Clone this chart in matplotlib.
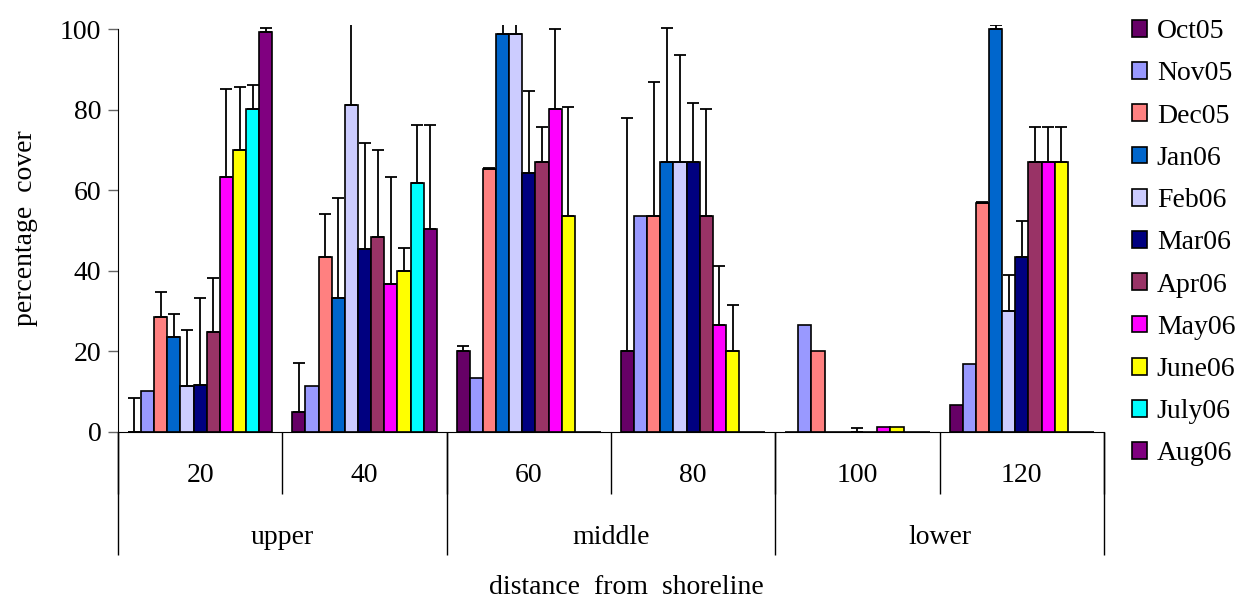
import matplotlib.pyplot as plt
import numpy as np

# данные: процент покрытия по месяцам и расстоянию от берега
distances = ['20', '40', '60', '80', '100', '120']
zones = ['upper', 'middle', 'lower']
months = ['Oct05', 'Nov05', 'Dec05', 'Jan06', 'Feb06', 'Mar06',
          'Apr06', 'May06', 'June06', 'July06', 'Aug06']
colors = ['#660066', '#9999FF', '#FF8080', '#0066CC', '#CCCCFF', '#000080',
          '#993366', '#FF00FF', '#FFFF00', '#00FFFF', '#800080']

oct05 = [0, 4.9, 20.1, 20.1, 0, 6.7]
nov05 = [10.2, 11.5, 13.3, 53.6, 26.5, 16.9]
dec05 = [28.5, 43.4, 65.2, 53.6, 20.0, 56.8]
jan06 = [23.5, 33.2, 98.8, 66.9, 0, 100]
feb06 = [11.5, 81.1, 98.8, 66.9, 0, 30.0]
mar06 = [11.7, 45.3, 64.3, 66.9, 0, 43.5]
apr06 = [24.9, 48.4, 66.9, 53.6, 0, 66.9]
may06 = [63.3, 36.7, 80.2, 26.6, 1.2, 66.9]
jun06 = [70.0, 40.0, 53.6, 20.1, 1.2, 66.9]
jul06 = [80.2, 61.7, 0, 0, 0, 0]
aug06 = [99.3, 50.4, 0, 0, 0, 0]

# верхние планки погрешностей
oct05_err = [8.5, 12.1, 1.2, 57.9, 0, 0]
nov05_err = [0, 0, 0, 0, 0, 0]
dec05_err = [6.2, 10.7, 0.4, 33.3, 0, 0.3]
jan06_err = [5.8, 24.8, 5, 33.3, 0, 1]
feb06_err = [13.9, 25, 5, 26.6, 0, 9]
mar06_err = [21.6, 26.5, 20.4, 14.7, 0.9, 8.9]
apr06_err = [13.4, 21.6, 8.9, 26.6, 0, 8.9]
may06_err = [21.7, 26.6, 19.8, 14.6, 0, 8.9]
jun06_err = [15.5, 5.7, 27, 11.5, 0, 8.9]
jul06_err = [5.8, 14.5, 0, 0, 0, 0]
aug06_err = [0.9, 25.8, 0, 0, 0, 0]

values = [oct05, nov05, dec05, jan06, feb06, mar06, apr06, may06, jun06, jul06, aug06]
errors = [oct05_err, nov05_err, dec05_err, jan06_err, feb06_err, mar06_err,
          apr06_err, may06_err, jun06_err, jul06_err, aug06_err]

plt.rcParams['font.family'] = ['Liberation Serif', 'DejaVu Serif']
plt.rcParams['font.size'] = 20

fig = plt.figure(figsize=(12.41, 6.01), dpi=100)
ax = fig.add_axes([0.0951, 0.2812, 0.7945, 0.6772])

n = len(months)
width = 1 / (n + 1.5)
base = np.arange(len(distances))
for j, (m, c) in enumerate(zip(months, colors)):
    x = base + 0.75 * width + width * (j + 0.5)
    y = np.array(values[j])
    e = np.array(errors[j])
    ax.bar(x, y, width=width, color=c, edgecolor='black', linewidth=1.2, label=m)
    mask = e > 0
    ax.errorbar(x[mask], y[mask], yerr=[np.zeros(mask.sum()), e[mask]],
                fmt='none', ecolor='black', elinewidth=1.3, capsize=4.5, capthick=1.3)

ax.set_xlim(0, len(distances))
ax.set_ylim(0, 101)
ax.set_yticks(range(0, 101, 20))
ax.set_xticks([])
ax.spines['top'].set_visible(False)
ax.spines['right'].set_visible(False)
ax.spines['left'].set_bounds(0, 100)
ax.tick_params(axis='y', length=7, width=1, color='#666666', pad=5)

# многоуровневая ось категорий
tr = ax.get_xaxis_transform()
ax.vlines(range(len(distances) + 1), -0.152, 0, transform=tr, colors='black',
          linewidth=1, clip_on=False)
ax.vlines(range(0, len(distances) + 1, 2), -0.302, 0, transform=tr, colors='black',
          linewidth=1, clip_on=False)
for i, d in enumerate(distances):
    ax.text(i + 0.5, -0.106, d, transform=tr, ha='center', va='center')
for k, z in enumerate(zones):
    ax.text(2 * k + 1, -0.258, z, transform=tr, ha='center', va='center')

fig.text(0.505, 1 - 588 / 601, 'distance  from  shoreline', ha='center', va='center')
ax.text(-0.094, 0.5, 'percentage  cover', transform=ax.transAxes, rotation=90,
        ha='center', va='center')

fig.legend(loc='upper left', bbox_to_anchor=(0.912, 0.968), frameon=False,
           handlelength=0.55, handleheight=0.55, handletextpad=0.35,
           labelspacing=0.62, borderpad=0, borderaxespad=0)

plt.savefig('out.png', dpi=100)
